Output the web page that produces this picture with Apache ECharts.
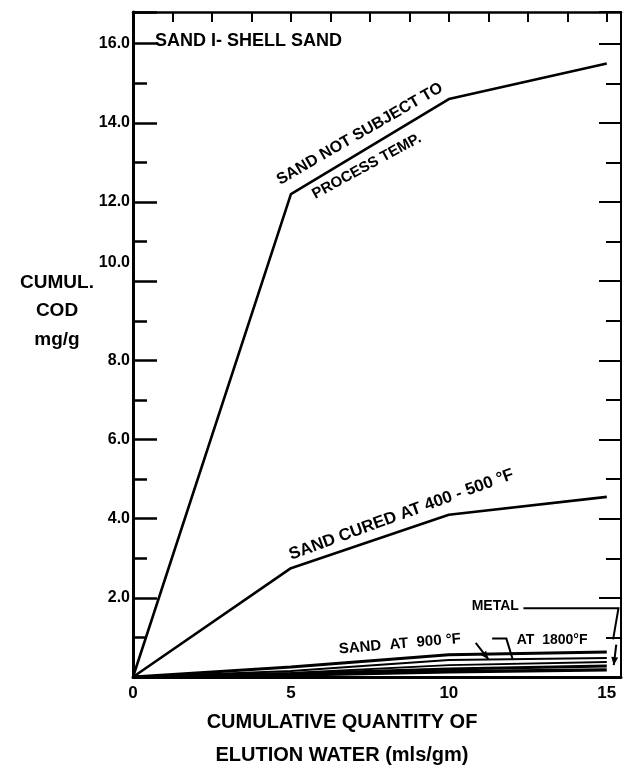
<!DOCTYPE html>
<html>
<head>
<meta charset="utf-8">
<script src="https://cdn.jsdelivr.net/npm/echarts@6/dist/echarts.min.js"></script>
<style>
  html, body { margin: 0; padding: 0; background: #fff; }
  #chart { width: 624px; height: 771px; }
</style>
</head>
<body>
<div id="chart"></div>
<script>
// ---- data ----
const xValues = [0, 5, 10, 15];                      // cumulative elution water, mls/gm
const sandNotSubjectToTemp = [0, 12.2, 14.6, 15.5]; // cumul. COD mg/g
const sandCured400to500 = [0, 2.75, 4.1, 4.55];
const sandAt900 = [0, 0.25, 0.56, 0.63];
const sandAt1800 = [0, 0.15, 0.43, 0.48];
const lowLineA = [0, 0.1, 0.3, 0.38];
const metal = [0, 0.08, 0.2, 0.28];
const lowLineB = [0, 0.05, 0.13, 0.18];
const yTickLabels = [2, 4, 6, 8, 10, 12, 14, 16];
const xTickLabels = [0, 5, 10, 15];

const FONT = '"Liberation Sans", "DejaVu Sans", sans-serif';
const chart = echarts.init(document.getElementById('chart'), null, { renderer: 'canvas' });

function pairs(ys) { return xValues.map((x, i) => [x, ys[i]]); }
function lineSeries(name, ys, width) {
  return {
    name, type: 'line', data: pairs(ys), symbol: 'none', smooth: false,
    xAxisIndex: 0, yAxisIndex: 0,
    lineStyle: { color: '#000', width: width }, z: 3
  };
}

const X_MAX = 15.45, Y_MAX = 16.8;

chart.setOption({
  animation: false,
  backgroundColor: '#fff',
  grid: { left: 133, top: 12, width: 489, height: 665, containLabel: false },
  xAxis: [
    {
      type: 'value', position: 'bottom', min: 0, max: X_MAX, interval: 5,
      axisLine: { onZero: false, lineStyle: { color: '#000', width: 3 } },
      axisTick: { show: false }, splitLine: { show: false },
      axisLabel: {
        color: '#000', fontFamily: FONT, fontWeight: 'bold', fontSize: 17, margin: 8,
        showMaxLabel: true,
        formatter: v => (xTickLabels.indexOf(v) >= 0 ? String(v) : '')
      }
    },
    {
      type: 'value', position: 'top', min: 0, max: X_MAX, interval: 1.25,
      axisLine: { show: true, onZero: false, lineStyle: { color: '#000', width: 2.5 } },
      axisTick: { show: true, inside: true, length: 10, lineStyle: { color: '#000', width: 2 } },
      axisLabel: { show: false }, splitLine: { show: false }
    }
  ],
  yAxis: [
    {
      type: 'value', position: 'left', min: 0, max: Y_MAX, interval: 2,
      axisLine: { show: true, onZero: false, lineStyle: { color: '#000', width: 3 } },
      axisTick: { show: true, inside: true, length: 24, lineStyle: { color: '#000', width: 2.5 } },
      minorTick: { show: true, splitNumber: 2, length: 14, lineStyle: { color: '#000', width: 2.5 } },
      splitLine: { show: false }, minorSplitLine: { show: false },
      axisLabel: {
        color: '#000', fontFamily: FONT, fontWeight: 'bold', fontSize: 16, margin: 3,
        formatter: v => {
          if (yTickLabels.indexOf(v) < 0) return '';
          const s = v.toFixed(1);
          return v === 10 ? '{up|' + s + '}' : s;
        },
        rich: { up: { fontFamily: FONT, fontWeight: 'bold', fontSize: 16, color: '#000', padding: [0, 0, 38, 0] } }
      }
    },
    {
      type: 'value', position: 'right', min: 0, max: Y_MAX, interval: 2,
      axisLine: { show: true, onZero: false, lineStyle: { color: '#000', width: 2 } },
      axisTick: { show: true, inside: true, length: 22, lineStyle: { color: '#000', width: 2 } },
      minorTick: { show: true, splitNumber: 2, length: 15, lineStyle: { color: '#000', width: 2 } },
      splitLine: { show: false }, axisLabel: { show: false }
    }
  ],
  series: [
    lineSeries('Sand not subject to process temp.', sandNotSubjectToTemp, 2.6),
    lineSeries('Sand cured at 400 - 500 °F', sandCured400to500, 2.6),
    lineSeries('Sand at 900 °F', sandAt900, 3),
    lineSeries('At 1800 °F', sandAt1800, 2),
    lineSeries('Low line A', lowLineA, 2),
    lineSeries('Metal', metal, 3),
    lineSeries('Low line B', lowLineB, 3.5)
  ]
});

// ---- annotations, anchored in data coordinates ----
const annotations = [
  { text: 'SAND NOT SUBJECT TO', at: [7.18, 13.72], angle: 30, size: 16 },
  { text: 'PROCESS TEMP.', at: [7.4, 12.9], angle: 28.5, size: 15 },
  { text: 'SAND CURED AT 400 - 500 °F', at: [8.5, 4.1], angle: 20, size: 17 },
  { text: 'SAND  AT  900 °F', at: [8.45, 0.83], angle: 5, size: 15 },
  { text: 'AT  1800°F', at: [13.27, 0.93], angle: 0, size: 14 },
  { text: 'METAL', at: [11.47, 1.79], angle: 0, size: 14 }
];
const leaders = [
  { pts: [[10.85, 0.86], [11.25, 0.45]], arrow: true },
  { pts: [[11.37, 0.97], [11.82, 0.97], [12.02, 0.45]], arrow: false },
  { pts: [[12.36, 1.74], [15.37, 1.74], [15.2, 0.95]], arrow: false },
  { pts: [[15.3, 0.82], [15.22, 0.3]], arrow: true }
];

function px(p) { return chart.convertToPixel({ xAxisIndex: 0, yAxisIndex: 0 }, p); }

const graphics = [];
annotations.forEach(a => {
  const p = px(a.at);
  graphics.push({
    type: 'text', x: p[0], y: p[1], rotation: a.angle * Math.PI / 180, z: 10,
    style: { text: a.text, fill: '#000', font: 'bold ' + a.size + 'px ' + FONT, align: 'center', verticalAlign: 'middle' }
  });
});
leaders.forEach(l => {
  const pts = l.pts.map(px);
  graphics.push({ type: 'polyline', z: 10, shape: { points: pts }, style: { stroke: '#000', lineWidth: 2, fill: null } });
  if (l.arrow) {
    const a = pts[pts.length - 2], b = pts[pts.length - 1];
    const ang = Math.atan2(b[1] - a[1], b[0] - a[0]);
    const L = 8, W = 3.5;
    const back = [b[0] - L * Math.cos(ang), b[1] - L * Math.sin(ang)];
    const nx = -Math.sin(ang), ny = Math.cos(ang);
    graphics.push({ type: 'polygon', z: 10, shape: { points: [b, [back[0] + nx * W, back[1] + ny * W], [back[0] - nx * W, back[1] - ny * W]] }, style: { fill: '#000' } });
  }
});

// titles
graphics.push({ type: 'text', left: 155, top: 32, z: 10,
  style: { text: 'SAND I- SHELL SAND', fill: '#000', font: 'bold 18px ' + FONT } });
[['CUMUL.', 283], ['COD', 311], ['mg/g', 340]].forEach(([t, y]) => {
  graphics.push({ type: 'text', x: 57, y: y, z: 10,
    style: { text: t, fill: '#000', font: 'bold 19px ' + FONT, align: 'center', verticalAlign: 'middle' } });
});
[['CUMULATIVE QUANTITY OF', 722], ['ELUTION WATER (mls/gm)', 755]].forEach(([t, y]) => {
  graphics.push({ type: 'text', x: 342, y: y, z: 10,
    style: { text: t, fill: '#000', font: 'bold 20px ' + FONT, align: 'center', verticalAlign: 'middle' } });
});

chart.setOption({ graphic: graphics });
</script>
</body>
</html>
